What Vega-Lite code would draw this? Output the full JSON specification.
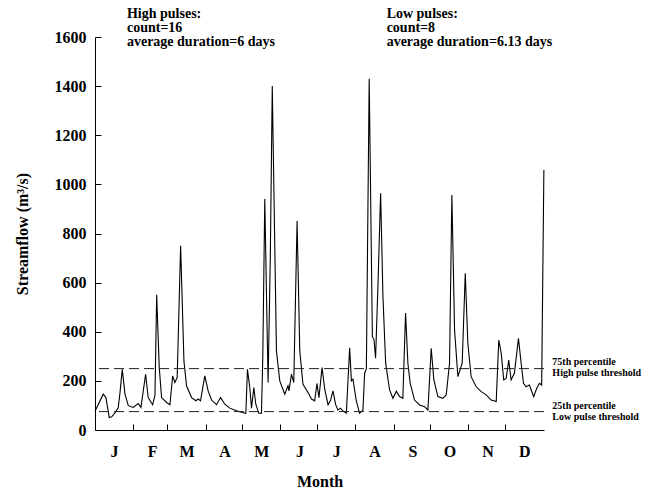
{
  "$schema": "https://vega.github.io/schema/vega-lite/v6.json",
  "width": 449,
  "height": 393,
  "autosize": "none",
  "padding": {"left": 95, "top": 37, "right": 104, "bottom": 59},
  "background": "white",
  "config": {
    "view": {"stroke": null},
    "font": "Liberation Serif",
    "axis": {
      "labelFont": "Liberation Serif",
      "titleFont": "Liberation Serif",
      "labelFontWeight": "bold",
      "titleFontWeight": "bold",
      "labelColor": "black",
      "titleColor": "black",
      "domainColor": "black",
      "tickColor": "black",
      "grid": false
    }
  },
  "datasets": {
    "flow": [
      {"day": 0, "q": 76}, {"day": 6.7, "q": 146}, {"day": 8.9, "q": 132}, {"day": 11.6, "q": 51}, {"day": 13.6, "q": 54},
      {"day": 17.1, "q": 76}, {"day": 18.9, "q": 90}, {"day": 20.3, "q": 150}, {"day": 22.2, "q": 247}, {"day": 24.4, "q": 146},
      {"day": 27.1, "q": 99}, {"day": 31.1, "q": 92}, {"day": 35.2, "q": 108}, {"day": 37.4, "q": 92}, {"day": 41.2, "q": 227},
      {"day": 43.3, "q": 132}, {"day": 46.9, "q": 103}, {"day": 48.8, "q": 140}, {"day": 50.2, "q": 551}, {"day": 52.3, "q": 254},
      {"day": 54.2, "q": 132}, {"day": 58.3, "q": 112}, {"day": 61, "q": 103}, {"day": 63.2, "q": 220}, {"day": 65, "q": 193},
      {"day": 66.9, "q": 214}, {"day": 69.7, "q": 750}, {"day": 72.4, "q": 281}, {"day": 74.5, "q": 180}, {"day": 78.6, "q": 132},
      {"day": 82.1, "q": 119}, {"day": 84, "q": 126}, {"day": 85.9, "q": 119}, {"day": 89.4, "q": 220}, {"day": 92.1, "q": 159},
      {"day": 94.9, "q": 122}, {"day": 98.9, "q": 103}, {"day": 102.2, "q": 132}, {"day": 105.7, "q": 105}, {"day": 109.7, "q": 89},
      {"day": 115.2, "q": 78}, {"day": 120.6, "q": 70}, {"day": 122.8, "q": 68}, {"day": 124.1, "q": 247}, {"day": 126, "q": 173},
      {"day": 127.4, "q": 89}, {"day": 129.3, "q": 173}, {"day": 130.9, "q": 105}, {"day": 133.3, "q": 68}, {"day": 135.5, "q": 68},
      {"day": 136.6, "q": 300}, {"day": 138.2, "q": 940}, {"day": 140.9, "q": 193}, {"day": 142.7, "q": 700}, {"day": 144.3, "q": 1400},
      {"day": 147.7, "q": 322}, {"day": 150.4, "q": 200}, {"day": 154.5, "q": 146}, {"day": 157.1, "q": 180}, {"day": 157.9, "q": 159},
      {"day": 159.9, "q": 227}, {"day": 161.8, "q": 193}, {"day": 164.5, "q": 851}, {"day": 166.7, "q": 322}, {"day": 169.3, "q": 186},
      {"day": 173.4, "q": 153}, {"day": 176.2, "q": 126}, {"day": 178.8, "q": 119}, {"day": 180.7, "q": 189}, {"day": 182.3, "q": 132},
      {"day": 184.8, "q": 254}, {"day": 187, "q": 166}, {"day": 189.7, "q": 103}, {"day": 191.6, "q": 119}, {"day": 193.7, "q": 159},
      {"day": 195.9, "q": 103}, {"day": 197.8, "q": 81}, {"day": 199.7, "q": 89}, {"day": 201.9, "q": 78}, {"day": 204.6, "q": 68},
      {"day": 207.3, "q": 335}, {"day": 208.7, "q": 200}, {"day": 210, "q": 207}, {"day": 212.7, "q": 119}, {"day": 215.4, "q": 68},
      {"day": 218.1, "q": 81}, {"day": 219.5, "q": 231}, {"day": 220.9, "q": 250}, {"day": 223.2, "q": 1430}, {"day": 225.8, "q": 380},
      {"day": 227.1, "q": 368}, {"day": 228.4, "q": 292}, {"day": 230.5, "q": 615}, {"day": 232.5, "q": 964}, {"day": 234.4, "q": 543},
      {"day": 236.6, "q": 272}, {"day": 239.8, "q": 163}, {"day": 242.5, "q": 129}, {"day": 245.3, "q": 158}, {"day": 247.9, "q": 136},
      {"day": 250.6, "q": 129}, {"day": 252.8, "q": 476}, {"day": 254.7, "q": 272}, {"day": 256.6, "q": 190}, {"day": 260.1, "q": 122},
      {"day": 264.2, "q": 102}, {"day": 268.3, "q": 95}, {"day": 271, "q": 81}, {"day": 273.7, "q": 333}, {"day": 275.8, "q": 205},
      {"day": 279.1, "q": 136}, {"day": 283.1, "q": 129}, {"day": 285.9, "q": 143}, {"day": 288.6, "q": 272}, {"day": 290.5, "q": 957},
      {"day": 292.7, "q": 407}, {"day": 295.4, "q": 217}, {"day": 298.9, "q": 272}, {"day": 301.4, "q": 638}, {"day": 303.5, "q": 353},
      {"day": 306.2, "q": 217}, {"day": 310.3, "q": 176}, {"day": 314.4, "q": 156}, {"day": 318.4, "q": 143}, {"day": 322.5, "q": 122},
      {"day": 326.6, "q": 116}, {"day": 328.7, "q": 366}, {"day": 330.7, "q": 312}, {"day": 332.7, "q": 204}, {"day": 334.7, "q": 210},
      {"day": 336.8, "q": 285}, {"day": 338.7, "q": 204}, {"day": 341.4, "q": 231}, {"day": 344.7, "q": 373}, {"day": 346.9, "q": 272},
      {"day": 348.8, "q": 190}, {"day": 350.9, "q": 176}, {"day": 353.6, "q": 183}, {"day": 357.1, "q": 136}, {"day": 359.6, "q": 170},
      {"day": 361.8, "q": 190}, {"day": 363.6, "q": 183}, {"day": 365.4, "q": 1059}
    ],
    "thresholds": [{"q": 250}, {"q": 75}],
    "topnotes": [
      {"day": 26, "q": 1722, "label": "High pulses:\ncount=16\naverage duration=6 days"},
      {"day": 237.4, "q": 1722, "label": "Low pulses:\ncount=8\naverage duration=6.13 days"}
    ],
    "sidenotes": [
      {"day": 372.3, "q": 297, "label": "75th percentile\nHigh pulse threshold"},
      {"day": 372.3, "q": 118, "label": "25th percentile\nLow pulse threshold"}
    ]
  },
  "layer": [
    {
      "data": {"name": "flow"},
      "mark": {"type": "line", "color": "black", "strokeWidth": 1.1, "interpolate": "linear"},
      "encoding": {
        "x": {
          "field": "day", "type": "quantitative",
          "scale": {"domain": [0, 365.5], "nice": false, "zero": false},
          "axis": {
            "title": "Month",
            "titleFontSize": 16,
            "titlePadding": 14,
            "values": [0, 31, 59, 90, 120, 151, 181, 212, 243, 273, 304, 334],
            "labelExpr": "['J','F','M','A','M','J','J','A','S','O','N','D'][indexof([0,31,59,90,120,151,181,212,243,273,304,334], datum.value)]",
            "labelOffset": 19,
            "labelAlign": "center",
            "labelFontSize": 16,
            "labelPadding": 19,
            "labelOverlap": false,
            "labelBound": false,
            "labelFlush": false,
            "tickSize": -6,
            "domainWidth": 1
          }
        },
        "y": {
          "field": "q", "type": "quantitative",
          "scale": {"domain": [0, 1600], "nice": false},
          "axis": {
            "title": "Streamflow (m³/s)",
            "titleFontSize": 16,
            "titlePadding": 24,
            "format": "d",
            "values": [0, 200, 400, 600, 800, 1000, 1200, 1400, 1600],
            "labelFontSize": 16,
            "labelPadding": 15,
            "tickSize": -6,
            "domainWidth": 1
          }
        }
      }
    },
    {
      "data": {"name": "thresholds"},
      "mark": {"type": "rule", "color": "#222", "strokeWidth": 1, "strokeDash": [10, 5]},
      "encoding": {"y": {"field": "q", "type": "quantitative"}}
    },
    {
      "data": {"name": "topnotes"},
      "mark": {"type": "text", "align": "left", "baseline": "top", "font": "Liberation Serif", "fontWeight": "bold", "fontSize": 14, "lineBreak": "\n", "lineHeight": 14, "color": "black"},
      "encoding": {
        "x": {"field": "day", "type": "quantitative"},
        "y": {"field": "q", "type": "quantitative"},
        "text": {"field": "label"}
      }
    },
    {
      "data": {"name": "sidenotes"},
      "mark": {"type": "text", "align": "left", "baseline": "top", "font": "Liberation Serif", "fontWeight": "bold", "fontSize": 10, "lineBreak": "\n", "lineHeight": 11, "color": "black"},
      "encoding": {
        "x": {"field": "day", "type": "quantitative"},
        "y": {"field": "q", "type": "quantitative"},
        "text": {"field": "label"}
      }
    }
  ]
}
